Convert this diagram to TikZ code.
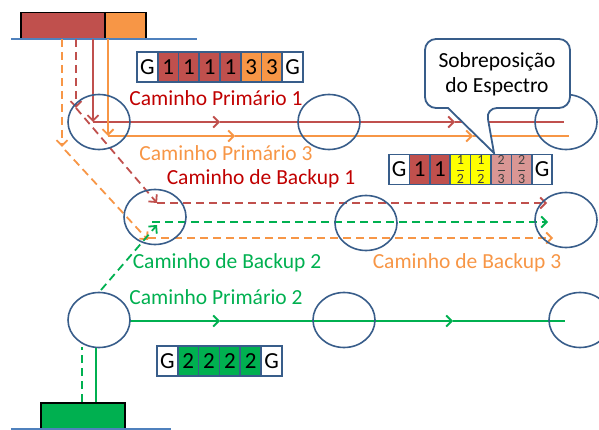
\documentclass[tikz,border=0pt]{standalone}
\usepackage{fontspec}
\setmainfont{Carlito}
\usetikzlibrary{arrows.meta,shapes.geometric}
\definecolor{rl}{HTML}{C0504D}
\definecolor{ol}{HTML}{F79646}
\definecolor{gl}{HTML}{00B050}
\definecolor{rt}{HTML}{C00000}
\definecolor{nb}{HTML}{385D8A}
\definecolor{bb}{HTML}{4F81BD}
\definecolor{pk}{HTML}{D99694}
\definecolor{yl}{HTML}{FFFF00}
\newcommand\slotfrac[2]{{\fontsize{14}{14}\selectfont\color{black!75}$\displaystyle\frac{\mbox{#1}}{\mbox{#2}}$}}
\begin{document}
\begin{tikzpicture}[x=1pt,y=-1pt,
  site/.style={ellipse, draw=nb, line width=1.6pt, minimum width=62pt, minimum height=55pt, inner sep=0pt},
  cell/.style={draw=nb, line width=1.7pt, minimum height=30pt, inner sep=0pt, font=\fontsize{23}{23}\selectfont},
  lbl/.style={font=\fontsize{21.5}{24}\selectfont, inner sep=0pt},
  arr/.style={-{Straight Barb[length=5.5pt,width=11pt]}},
  ln/.style={line width=1.8pt},
  dsh/.style={line width=1.8pt, dash pattern=on 8pt off 5pt},
  blk/.style={draw=black, line width=1.5pt, inner sep=0pt, anchor=north west}]
\useasboundingbox (0,0) rectangle (599,430);

% sources / destinations
\node[blk, fill=rl, minimum width=84pt, minimum height=26pt] (srcR) at (20,12) {};
\node[blk, fill=ol, minimum width=41pt, minimum height=26pt] (srcO) at (104,12) {};
\draw[bb, line width=2.5pt] (11,39) -- (197,39);
\node[blk, fill=gl, minimum width=84pt, minimum height=30pt] (dstG) at (40,402) {};
\draw[bb, line width=2.5pt] (11,429) -- (171,429);

% coordinates
\coordinate (r0) at (93,39);   \coordinate (r1) at (93,122);
\coordinate (r2) at (220,122); \coordinate (r3) at (455,122); \coordinate (r4) at (564,122);
\coordinate (o0) at (108,39);  \coordinate (o1) at (108,136);
\coordinate (o2) at (235,136); \coordinate (o3) at (473,136); \coordinate (o4) at (569,136);
\coordinate (rb0) at (76,39);  \coordinate (rb1) at (76,108);
\coordinate (rb2) at (157,203); \coordinate (rb3) at (547,203);
\coordinate (ob0) at (62,39);  \coordinate (ob1) at (62,147); \coordinate (ob1b) at (65,150);
\coordinate (ob2) at (148,240); \coordinate (ob2b) at (148,238); \coordinate (ob3) at (553,238);
\coordinate (gb0) at (82,402); \coordinate (gb1) at (82,347);
\coordinate (gb2) at (101,290); \coordinate (gb3) at (157,225);
\coordinate (gb3b) at (152,222); \coordinate (gb4) at (548,222);
\coordinate (g0) at (96,402);  \coordinate (g1) at (96,348);
\coordinate (g2) at (130,321); \coordinate (g3) at (220,321); \coordinate (g4) at (453,321); \coordinate (g5) at (565,321);

% primary 1 (red)
\draw[rl, ln, arr] (r0) -- (r1);
\draw[rl, ln, arr] (r1) -- (r2);
\draw[rl, ln, arr] (r2) -- (r3);
\draw[rl, ln] (r3) -- (r4);
% primary 3 (orange)
\draw[ol, ln, arr] (o0) -- (o1);
\draw[ol, ln, arr] (o1) -- (o2);
\draw[ol, ln, arr] (o2) -- (o3);
\draw[ol, ln] (o3) -- (o4);
% backup 1 (red dashed)
\draw[rl, dsh, arr] (rb0) -- (rb1);
\draw[rl, dsh, arr] (rb1) -- (rb2);
\draw[rl, dsh, arr] (rb2) -- (rb3);
% backup 3 (orange dashed)
\draw[ol, dsh, arr] (ob0) -- (ob1);
\draw[ol, dsh, arr] (ob1b) -- (ob2);
\draw[ol, dsh, arr] (ob2b) -- (ob3);
% backup 2 (green dashed)
\draw[gl, dsh] (gb0) -- (gb1);
\draw[gl, dsh, arr] (gb2) -- (gb3);
\draw[gl, dsh, arr] (gb3b) -- (gb4);
% primary 2 (green)
\draw[gl, ln] (g0) -- (g1);
\draw[gl, ln, arr] (g2) -- (g3);
\draw[gl, ln, arr] (g3) -- (g4);
\draw[gl, ln] (g4) -- (g5);

% nodes
\node[site] (n1) at (99,122) {};
\node[site] (n2) at (329,122) {};
\node[site] (n3) at (566,122) {};
\node[site] (n4) at (155,217) {};
\node[site] (n5) at (366,223) {};
\node[site] (n6) at (566,220) {};
\node[site] (n7) at (99,320) {};
\node[site] (n8) at (344,320) {};
\node[site] (n9) at (580,320) {};

% labels
\node[lbl, text=rt] (l1) at (216,98) {Caminho Primário 1};
\node[lbl, text=ol] (l3) at (226,153) {Caminho Primário 3};
\node[lbl, text=rt] (lb1) at (261,179) {Caminho de Backup 1};
\node[lbl, text=gl] (lb2) at (227,263) {Caminho de Backup 2};
\node[lbl, text=ol] (lb3) at (467,263) {Caminho de Backup 3};
\node[lbl, text=gl] (l2) at (216,297) {Caminho Primário 2};

% slot arrays
\foreach \lab/\col [count=\i from 0] in {G/white,1/rl,1/rl,1/rl,1/rl,3/ol,3/ol,G/white}
  \node[cell, fill=\col, minimum width=20.75pt] (ta\i) at (147.375+20.75*\i, 67) {\lab};
\foreach \lab/\col [count=\i from 0] in {G/white,2/gl,2/gl,2/gl,2/gl,G/white}
  \node[cell, fill=\col, minimum width=20.83pt] (tc\i) at (167.4+20.83*\i, 361) {\lab};

% callout
\draw[nb, fill=white, line width=1.8pt, rounded corners=11pt]
  (448,108) -- (425,108) -- (425,39) -- (570,39) -- (570,108) -- (486,108) [sharp corners] -- (494,153) -- cycle;
\node[lbl, align=center, font=\fontsize{21.5}{25}\selectfont] (co) at (497,74.5) {Sobreposição\\do Espectro};

\foreach \lab/\col [count=\i from 0] in {G/white,1/rl,1/rl,{\slotfrac{1}{2}}/yl,{\slotfrac{1}{2}}/yl,{\slotfrac{2}{3}}/pk,{\slotfrac{2}{3}}/pk,G/white}
  \node[cell, fill=\col, minimum width=20.4pt] (tb\i) at (399.2+20.4*\i, 169.5) {\lab};
\end{tikzpicture}
\end{document}
